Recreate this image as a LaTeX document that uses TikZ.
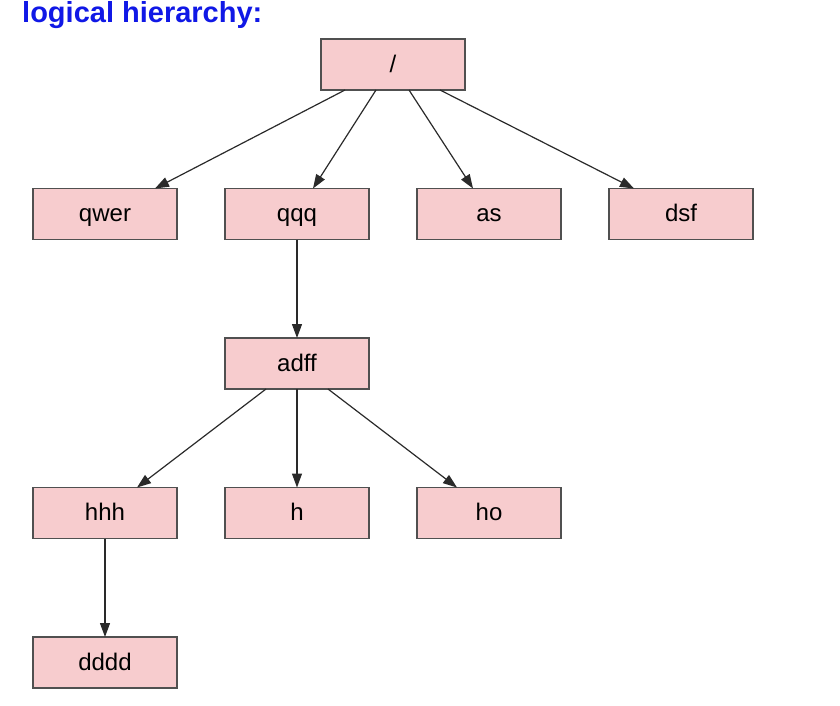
\documentclass[tikz,border=0pt]{standalone}
\usepackage{fontspec}
\setmainfont{Liberation Sans}
\usepackage{xcolor}
\usepackage{tikz}
\usetikzlibrary{positioning, arrows.meta, calc}
\definecolor{titleBlue}{HTML}{1018E6}
\definecolor{boxPink}{HTML}{F7CCCE}
\definecolor{boxEdge}{HTML}{505050}
\definecolor{linkGray}{HTML}{2A2A2A}

\begin{document}
\begin{tikzpicture}[
  x=1pt, y=-1pt,
  every node/.style={font=\fontsize{24}{28}\selectfont},
  dirBox/.style={rectangle, draw=boxEdge, line width=1.6pt, fill=boxPink,
                 minimum width=144pt, minimum height=51pt, outer sep=0pt,
                 text height=19.5pt, text depth=4pt, align=center},
  link/.style={draw=linkGray, line width=1.2pt,
               -{Triangle[length=14pt, width=10pt]}},
  node distance=98.5pt and 48pt,
]
  \useasboundingbox (0,0) rectangle (840,706);

  \node[anchor=base west, font=\fontsize{29}{33}\selectfont\bfseries,
        color=titleBlue, inner sep=0pt] (title) at (22,23) {logical hierarchy:};

  \node[dirBox] (root) at (393,64.5) {/};

  \node[dirBox, below=of root, xshift=-96pt] (qqq) {qqq};
  \node[dirBox, left=of qqq] (qwer) {qwer};
  \node[dirBox, right=of qqq] (as) {as};
  \node[dirBox, right=of as] (dsf) {dsf};

  \node[dirBox, below=of qqq] (adff) {adff};
  \node[dirBox, below=of adff] (h) {h};
  \node[dirBox, left=of h] (hhh) {hhh};
  \node[dirBox, right=of h] (ho) {ho};

  \node[dirBox, below=of hhh] (dddd) {dddd};

  \draw[link] ([xshift=-48pt]root.south) -- ([xshift=50pt]qwer.north);
  \draw[link] ([xshift=-17pt]root.south) -- ([xshift=16pt]qqq.north);
  \draw[link] ([xshift=16pt]root.south) -- ([xshift=-16pt]as.north);
  \draw[link] ([xshift=47pt]root.south) -- ([xshift=-47pt]dsf.north);

  \draw[link] (qqq) -- (adff);

  \draw[link] ([xshift=-31pt]adff.south) -- ([xshift=32pt]hhh.north);
  \draw[link] (adff) -- (h);
  \draw[link] ([xshift=31pt]adff.south) -- ([xshift=-32pt]ho.north);

  \draw[link] (hhh) -- (dddd);
\end{tikzpicture}
\end{document}
